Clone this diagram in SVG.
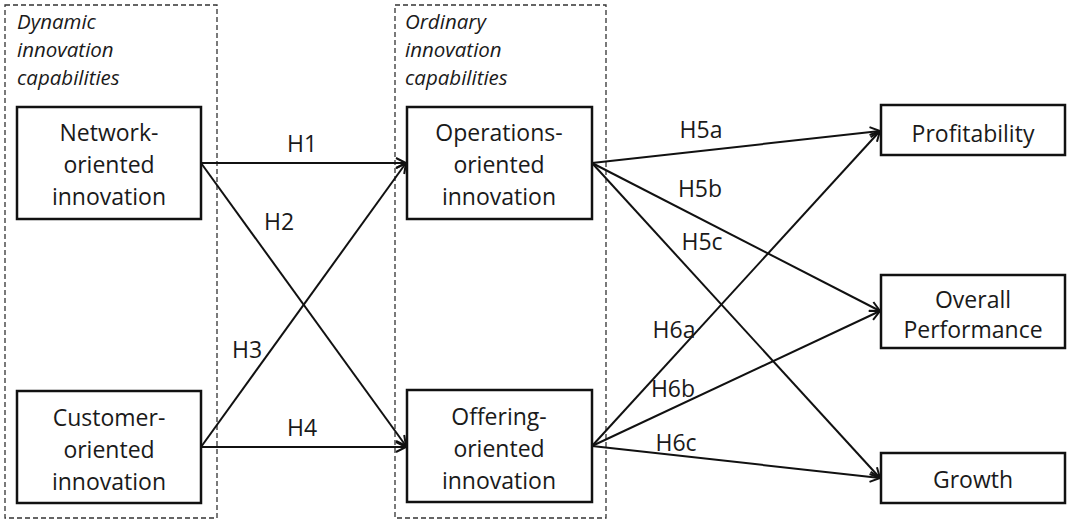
<svg xmlns="http://www.w3.org/2000/svg" width="1067" height="520" viewBox="0 0 1067 520">
<style>
.grp{fill:none;stroke:#333;stroke-width:1.3;stroke-dasharray:5,3}
.box{fill:#fff;stroke:#111;stroke-width:2.5}
.t{font-family:"Open Sans","Liberation Sans",sans-serif;font-size:23px;fill:#1a1a1a;text-anchor:middle}
.it{font-family:"Open Sans","Liberation Sans",sans-serif;font-size:20.5px;font-style:italic;fill:#1a1a1a}
.c{fill:none;stroke:#111;stroke-width:2}
</style>
<defs>
<marker id="ah" markerWidth="14" markerHeight="14" refX="11" refY="6" orient="auto" markerUnits="userSpaceOnUse">
<path d="M1,1 L11,6 L1,11" fill="none" stroke="#111" stroke-width="2"/>
</marker>
</defs>
<rect width="1067" height="520" fill="#fff"/>
<g id="group-dynamic">
<rect class="grp" x="5" y="5" width="212" height="513"/>
<text class="it" x="17" y="29">Dynamic</text>
<text class="it" x="17" y="57">innovation</text>
<text class="it" x="17" y="85">capabilities</text>
</g>
<g id="group-ordinary">
<rect class="grp" x="395" y="5" width="211" height="513"/>
<text class="it" x="405" y="29">Ordinary</text>
<text class="it" x="405" y="57">innovation</text>
<text class="it" x="405" y="85">capabilities</text>
</g>
<g id="connectors">
<line class="c" x1="201" y1="163" x2="406" y2="163" marker-end="url(#ah)"/>
<line class="c" x1="201" y1="163" x2="406" y2="446" marker-end="url(#ah)"/>
<line class="c" x1="201" y1="447" x2="406" y2="163" marker-end="url(#ah)"/>
<line class="c" x1="201" y1="447" x2="406" y2="447" marker-end="url(#ah)"/>
<line class="c" x1="592" y1="163" x2="880" y2="131" marker-end="url(#ah)"/>
<line class="c" x1="592" y1="163" x2="880" y2="311" marker-end="url(#ah)"/>
<line class="c" x1="592" y1="163" x2="880" y2="478" marker-end="url(#ah)"/>
<line class="c" x1="592" y1="446" x2="880" y2="131" marker-end="url(#ah)"/>
<line class="c" x1="592" y1="446" x2="880" y2="311" marker-end="url(#ah)"/>
<line class="c" x1="592" y1="446" x2="880" y2="478" marker-end="url(#ah)"/>
<text class="t" x="302" y="152">H1</text>
<text class="t" x="279" y="230">H2</text>
<text class="t" x="247" y="358">H3</text>
<text class="t" x="302" y="436">H4</text>
<text class="t" x="701" y="138">H5a</text>
<text class="t" x="700" y="197">H5b</text>
<text class="t" x="702" y="250">H5c</text>
<text class="t" x="674" y="338">H6a</text>
<text class="t" x="673" y="397">H6b</text>
<text class="t" x="676" y="451">H6c</text>
</g>
<g id="network">
<rect class="box" x="17" y="107" width="184" height="112"/>
<text class="t" x="109" y="141">Network-</text>
<text class="t" x="109" y="173">oriented</text>
<text class="t" x="109" y="205">innovation</text>
</g>
<g id="customer">
<rect class="box" x="17" y="391" width="184" height="112"/>
<text class="t" x="109" y="426">Customer-</text>
<text class="t" x="109" y="458">oriented</text>
<text class="t" x="109" y="490">innovation</text>
</g>
<g id="operations">
<rect class="box" x="407" y="107" width="185" height="112"/>
<text class="t" x="499" y="141">Operations-</text>
<text class="t" x="499" y="173">oriented</text>
<text class="t" x="499" y="205">innovation</text>
</g>
<g id="offering">
<rect class="box" x="407" y="390" width="185" height="112"/>
<text class="t" x="499" y="425">Offering-</text>
<text class="t" x="499" y="457">oriented</text>
<text class="t" x="499" y="489">innovation</text>
</g>
<g id="profitability">
<rect class="box" x="881" y="105" width="184" height="50"/>
<text class="t" x="973" y="142">Profitability</text>
</g>
<g id="overall">
<rect class="box" x="881" y="275" width="184" height="73"/>
<text class="t" x="973" y="308">Overall</text>
<text class="t" x="973" y="338">Performance</text>
</g>
<g id="growth">
<rect class="box" x="881" y="453" width="184" height="50"/>
<text class="t" x="973" y="488">Growth</text>
</g>
</svg>
